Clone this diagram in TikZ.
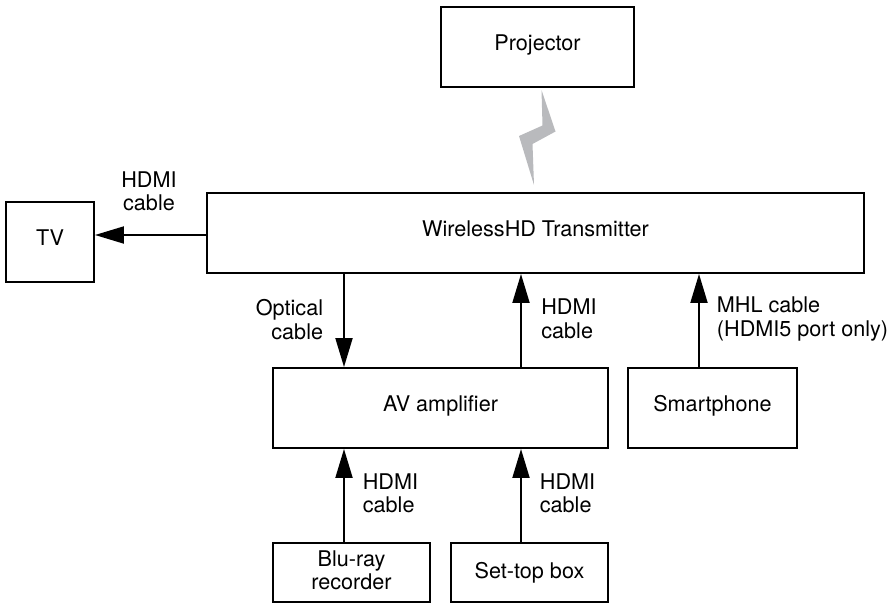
\documentclass[tikz,border=0pt]{standalone}
\usepackage{fontspec}
\setmainfont{TeX Gyre Heros}
\usetikzlibrary{arrows.meta}
\tikzset{
    devicebox/.style={draw, line width=1.1pt, minimum height=1.6cm, inner sep=0pt, align=center, text depth=0.18cm, font=\fontsize{12.3}{13.4}\selectfont},
    smallbox/.style={devicebox, minimum width=3.14cm, minimum height=1.18cm, text depth=0.09cm},
    cablelabel/.style={align=center, inner sep=0pt, font=\fontsize{12.3}{13.4}\selectfont},
    cable/.style={line width=1.1pt, -{Triangle[length=0.58cm, width=0.34cm]}}
}
\begin{document}
\begin{tikzpicture}
    \useasboundingbox (0, 0) rectangle (17.78, 12.08);
    % Boxes
    \node [devicebox, minimum width=3.86cm] (projector) at (10.75, 11.14) {Projector};
    \node [devicebox, minimum width=13.14cm] (transmitter) at (10.71, 7.42) {WirelessHD Transmitter};
    \node [devicebox, minimum width=1.76cm] (tv) at (1.0, 7.24) {TV};
    \node [devicebox, minimum width=6.7cm] (amplifier) at (8.81, 3.92) {AV amplifier};
    \node [devicebox, minimum width=3.38cm] (smartphone) at (14.25, 3.92) {Smartphone};
    \node [smallbox] (recorder) at (7.03, 0.63) {Blu-ray\\recorder};
    \node [smallbox] (settop) at (10.59, 0.63) {Set-top box};

    % Wireless link
    \definecolor{boltgray}{HTML}{B9BABD}
    \fill [boltgray] (10.83, 10.28) -- (11.11, 9.45) -- (10.65, 9.20) -- (10.68, 8.38) -- (10.38, 9.36) -- (10.85, 9.57) -- cycle;

    % Cable positions
    \coordinate (tvcable) at (0, 7.38);
    \coordinate (leftcable) at (6.88, 0);
    \coordinate (midcable) at (10.42, 0);
    \coordinate (phonecable) at (13.98, 0);

    % Cables
    \draw [cable] (transmitter.west |- tvcable) -- (tv.east |- tvcable);
    \draw [cable] (leftcable |- transmitter.south) -- (leftcable |- amplifier.north);
    \draw [cable] (midcable |- amplifier.north) -- (midcable |- transmitter.south);
    \draw [cable] (phonecable |- smartphone.north) -- (phonecable |- transmitter.south);
    \draw [cable] (leftcable |- recorder.north) -- (leftcable |- amplifier.south);
    \draw [cable] (midcable |- settop.north) -- (midcable |- amplifier.south);

    % Labels
    \node [cablelabel] (tvlabel) at (2.98, 8.25) {HDMI\\cable};
    \node [cablelabel, align=right] (opticallabel) at (5.79, 5.69) {Optical\\cable};
    \node [cablelabel, align=left] (hdmilabel) at (11.38, 5.7) {HDMI\\cable};
    \node [cablelabel, align=left] (mhllabel) at (16.05, 5.7) {MHL cable\\(HDMI5 port only)};
    \node [cablelabel, align=left] (recorderlabel) at (7.81, 2.21) {HDMI\\cable};
    \node [cablelabel, align=left] (settoplabel) at (11.35, 2.21) {HDMI\\cable};
\end{tikzpicture}
\end{document}
